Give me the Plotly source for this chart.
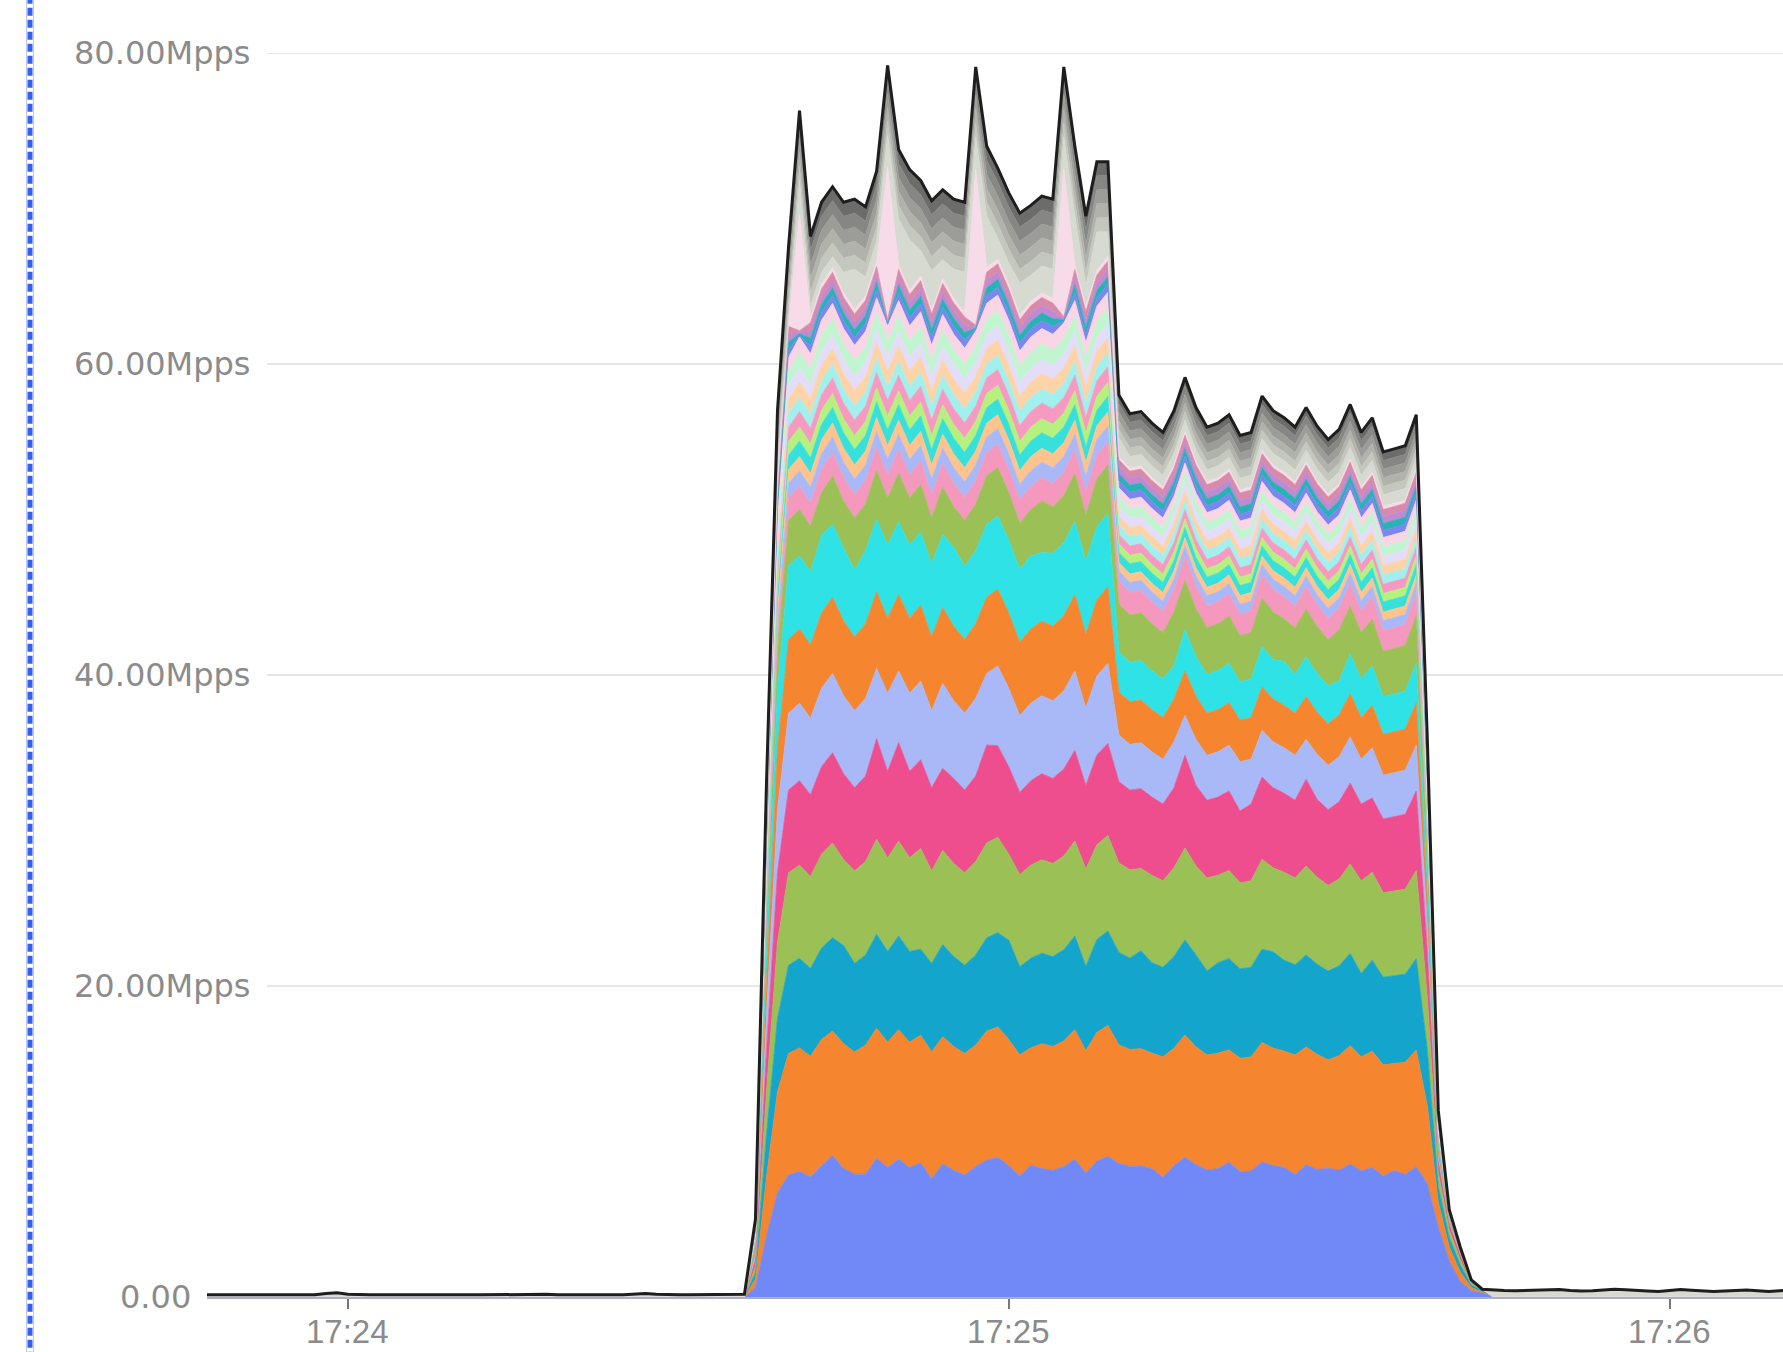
import numpy as np
import pandas as pd
import plotly.graph_objects as go

# ---------------- time axis (1 s samples, 17:23:47 .. 17:26:11) ----------------
TIMES = pd.date_range("2024-01-01 17:23:47", periods=145, freq="s")
N_BEFORE = 50   # 17:23:47 .. 17:24:36 (idle)
N_AFTER = 28    # 17:25:44 .. 17:26:11 (idle)
# active window = 67 samples, 17:24:37 .. 17:25:43

Y_TICKS = [0, 20, 40, 60, 80]
Y_TICK_TEXT = ["0.00", "20.00Mpps", "40.00Mpps", "60.00Mpps", "80.00Mpps"]
X_TICKS = ["2024-01-01 17:24:00", "2024-01-01 17:25:00", "2024-01-01 17:26:00"]
X_TICK_TEXT = ["17:24", "17:25", "17:26"]

# idle traffic (Mpps) before / after the burst
IDLE_BEFORE = [0.15, 0.15, 0.16, 0.15, 0.14, 0.15, 0.16, 0.17, 0.15, 0.14,
               0.15, 0.22, 0.28, 0.18, 0.15, 0.14, 0.15, 0.16, 0.15, 0.15,
               0.14, 0.15, 0.17, 0.16, 0.15, 0.14, 0.15, 0.15, 0.16, 0.18,
               0.20, 0.17, 0.15, 0.14, 0.15, 0.16, 0.15, 0.14, 0.15, 0.17,
               0.22, 0.18, 0.15, 0.14, 0.15, 0.16, 0.17, 0.15, 0.16, 0.18]
IDLE_AFTER = [0.45, 0.42, 0.40, 0.42, 0.45, 0.50, 0.48, 0.42, 0.38, 0.40,
              0.45, 0.50, 0.46, 0.40, 0.38, 0.35, 0.40, 0.48, 0.44, 0.38,
              0.35, 0.38, 0.42, 0.45, 0.40, 0.36, 0.40, 0.45]

# ---------------- per-flow rates during the burst (Mpps) ----------------
BLUE_V = [0.6, 3.9, 6.7,
          7.84, 8.08, 7.72, 8.44, 9.1, 8.26, 7.9, 7.9, 8.92, 8.32,
          8.86, 8.32, 8.62, 7.6, 8.56, 8.14, 7.84, 8.4, 8.8, 8.98,
          8.44, 7.78, 8.48, 8.26, 8.14, 8.38, 8.86, 7.96, 8.74, 9.04,
          8.58,
          8.4, 8.43, 8.25, 7.7, 8.45, 8.98, 8.5, 8.18, 8.25, 8.68,
          8.05, 8.1, 8.68, 8.45, 8.33, 7.88, 8.5, 8.2, 8.28, 8.15,
          8.55, 8.1, 8.33, 7.78, 8.13, 7.88, 8.38,
          7.3, 4.5, 2.3, 1.0, 0.4, 0.25]
ORANGE_V = [0.55, 3.8, 6.5,
            7.82, 7.94, 7.76, 8.12, 8.0, 8.03, 7.85, 8.3, 8.36, 8.06,
            8.33, 8.06, 8.21, 8.15, 8.18, 7.97, 7.82, 7.8, 8.3, 8.39,
            8.12, 7.79, 7.54, 8.03, 7.97, 8.09, 8.33, 7.88, 8.27, 8.42,
            7.63,
            7.52, 7.54, 7.43, 7.74, 7.55, 7.87, 7.58, 7.39, 7.43, 7.21,
            7.31, 7.34, 7.69, 7.55, 7.48, 7.69, 7.58, 7.4, 6.97, 7.37,
            7.61, 7.34, 7.48, 7.15, 6.88, 7.21, 7.51,
            5.0, 1.6, 0.9, 0.6, 0.2, 0.08]
TEAL_V = [0.4, 2.7, 4.7,
          5.68, 5.76, 5.64, 5.88, 6.0, 6.32, 5.7, 5.8, 6.04, 5.84,
          6.02, 5.84, 5.54, 5.7, 5.92, 5.78, 5.68, 5.8, 6.0, 6.06,
          6.38, 5.66, 5.76, 5.82, 5.78, 5.86, 6.02, 5.42, 5.98, 6.08,
          5.95,
          5.88, 6.29, 5.82, 5.76, 5.9, 6.11, 5.92, 5.39, 5.82, 5.87,
          5.74, 5.76, 5.99, 6.2, 5.85, 5.79, 5.92, 5.8, 5.71, 5.78,
          5.94, 5.36, 5.85, 5.63, 5.65, 5.67, 5.87,
          3.6, 1.0, 0.6, 0.45, 0.15, 0.07]
GREEN_V = [0.4, 2.8, 4.9,
           5.94, 5.98, 5.92, 6.04, 6.1, 5.51, 5.95, 6.0, 6.12, 6.02,
           6.11, 6.02, 6.47, 5.95, 6.06, 5.99, 5.94, 6.0, 6.1, 6.13,
           5.54, 5.93, 5.98, 6.01, 5.99, 6.03, 6.11, 6.26, 6.09, 6.14,
           5.75,
           5.68, 5.29, 5.62, 5.56, 5.7, 5.91, 5.72, 5.99, 5.62, 5.67,
           5.54, 5.56, 5.79, 5.4, 5.65, 5.59, 5.72, 5.6, 5.51, 5.58,
           5.74, 5.96, 5.65, 5.43, 5.45, 5.47, 5.67,
           3.4, 0.9, 0.5, 0.35, 0.12, 0.05]
PINK_V = [0.4, 2.6, 4.5,
          5.32, 5.44, 5.26, 5.62, 5.8, 5.53, 5.35, 5.5, 6.46, 5.56,
          6.33, 5.56, 5.71, 5.35, 5.28, 5.47, 5.32, 5.5, 6.3, 5.89,
          5.62, 5.29, 5.44, 5.53, 5.47, 5.59, 5.83, 5.38, 5.77, 5.92,
          5.23,
          5.12, 5.14, 5.03, 4.94, 5.15, 5.97, 5.18, 4.99, 5.03, 5.11,
          4.61, 4.94, 5.29, 5.15, 5.08, 4.99, 5.58, 5.0, 4.87, 4.97,
          5.21, 4.94, 4.78, 4.75, 4.78, 4.81, 5.11,
          3.0, 0.7, 0.4, 0.3, 0.1, 0.05]
LAVENDER_V = [0.35, 2.3, 4.0,
              4.94, 4.98, 4.92, 5.04, 5.1, 5.01, 4.95, 5.0, 4.52, 5.02,
              4.61, 5.02, 5.07, 4.95, 5.46, 4.99, 4.94, 5.0, 4.6, 5.13,
              5.04, 4.93, 4.98, 5.01, 4.99, 5.03, 5.11, 4.96, 5.09, 5.14,
              2.98,
              2.94, 2.95, 2.91, 2.88, 2.95, 2.56, 2.96, 2.9, 2.91, 2.94,
              3.17, 2.88, 3.0, 2.95, 2.93, 2.9, 2.56, 2.9, 2.86, 2.89,
              2.97, 2.88, 3.23, 2.82, 2.83, 2.84, 2.94,
              1.7, 0.35, 0.15, 0.1, 0.03, 0.0]
ORANGE_B_V = [0.35, 2.2, 3.9,
              4.74, 4.78, 4.72, 4.84, 4.9, 4.81, 4.75, 4.8, 4.92, 4.82,
              4.91, 4.82, 4.87, 4.75, 4.86, 4.79, 4.74, 4.8, 4.9, 4.93,
              4.84, 4.73, 4.78, 4.81, 4.79, 4.83, 4.91, 4.76, 4.89, 4.94,
              2.78,
              2.74, 2.75, 2.71, 2.68, 2.75, 2.86, 2.76, 2.7, 2.71, 2.74,
              2.67, 2.68, 2.8, 2.75, 2.73, 2.7, 2.76, 2.7, 2.66, 2.69,
              2.77, 2.68, 2.73, 2.62, 2.63, 2.64, 2.74,
              1.6, 0.35, 0.15, 0.1, 0.03, 0.0]
CYAN_V = [0.3, 2.2, 3.8,
          4.7, 4.7, 4.7, 5.0, 4.7, 4.7, 4.3, 4.7, 4.7, 4.7,
          4.7, 4.7, 4.7, 4.7, 4.7, 5.1, 4.7, 4.7, 4.7, 4.7,
          4.7, 4.7, 4.7, 4.4, 4.7, 4.7, 4.7, 4.7, 4.7, 4.7,
          2.58,
          2.54, 2.55, 2.51, 2.48, 2.15, 2.66, 2.56, 2.5, 2.51, 2.54,
          2.47, 2.48, 2.6, 2.55, 2.83, 2.5, 2.56, 2.5, 2.46, 2.19,
          2.57, 2.48, 2.53, 2.42, 2.43, 2.44, 2.54,
          1.5, 0.3, 0.15, 0.1, 0.03, 0.0]
GREEN_B_V = [0.2, 1.4, 2.4,
             2.94, 2.98, 2.92, 2.74, 3.1, 3.01, 3.35, 3.0, 3.12, 3.02,
             3.11, 3.02, 3.07, 2.95, 3.06, 2.59, 2.94, 3.0, 3.1, 3.13,
             3.04, 2.93, 2.98, 3.31, 2.99, 3.03, 3.11, 2.96, 3.09, 3.14,
             3.08,
             3.04, 3.05, 3.01, 2.98, 3.45, 3.16, 3.06, 3.0, 3.01, 3.04,
             2.97, 2.98, 3.1, 3.05, 2.73, 3.0, 3.06, 3.0, 2.96, 3.29,
             3.07, 2.98, 3.03, 2.92, 2.93, 2.94, 3.04,
             1.8, 0.35, 0.15, 0.1, 0.04, 0.0]
PINK_B_V = [0.1, 0.7, 1.2,
            1.5, 1.5, 1.5, 1.5, 1.5, 1.5, 1.5, 1.5, 1.5, 1.5,
            1.5, 1.5, 1.5, 1.5, 1.5, 1.5, 1.5, 1.5, 1.5, 1.5,
            1.5, 1.5, 1.5, 1.5, 1.5, 1.5, 1.5, 1.5, 1.5, 1.5,
            1.48,
            1.44, 1.45, 1.41, 1.38, 1.45, 1.56, 1.46, 1.4, 1.41, 1.44,
            1.37, 1.38, 1.5, 1.45, 1.43, 1.4, 1.46, 1.4, 1.36, 1.39,
            1.47, 1.38, 1.43, 1.32, 1.33, 1.34, 1.44,
            0.8, 0.15, 0.05, 0.0, 0.0, 0.0]

# small flows (thin bands)
C1_V = [0.07, 0.46, 0.78, 0.9,
        1.0, 1.0, 1.0, 1.0, 1.0, 1.0, 1.0, 1.0, 1.0, 1.0, 1.0, 1.0, 1.0, 1.0, 1.0,
        1.0, 1.0, 1.0, 1.0, 1.0, 1.0, 1.0, 1.0, 1.0, 1.0, 1.0, 1.0, 1.0, 1.0,
        0.65, 0.65, 0.65, 0.65, 0.65, 0.65, 0.65, 0.65, 0.65, 0.65, 0.65, 0.65, 0.65, 0.65,
        0.65, 0.65, 0.65, 0.65, 0.65, 0.65, 0.65, 0.65, 0.65, 0.65, 0.65, 0.65, 0.65, 0.65,
        0.36, 0.1, 0.01, 0.0, 0.0, 0.0]
C2_V = [0.07, 0.46, 0.78, 0.9,
        0.9, 0.9, 0.9, 0.9, 0.9, 0.9, 0.9, 0.9, 0.9, 0.9, 0.9, 0.9, 0.9, 0.9, 0.9,
        0.9, 0.9, 0.9, 0.9, 0.9, 0.9, 0.9, 0.9, 0.9, 0.9, 0.9, 0.9, 0.9, 0.9,
        0.55, 0.55, 0.55, 0.55, 0.55, 0.55, 0.55, 0.55, 0.55, 0.55, 0.55, 0.55, 0.55, 0.55,
        0.55, 0.55, 0.55, 0.55, 0.55, 0.55, 0.55, 0.55, 0.55, 0.55, 0.55, 0.55, 0.55, 0.55,
        0.36, 0.1, 0.01, 0.0, 0.0, 0.0]
C3_V = [0.07, 0.46, 0.78, 0.9,
        1.0, 1.0, 1.0, 1.0, 1.0, 1.0, 1.0, 1.0, 1.0, 1.0, 1.0, 1.0, 1.0, 1.0, 1.0,
        1.0, 1.0, 1.0, 1.0, 1.0, 1.0, 1.0, 1.0, 1.0, 1.0, 1.0, 1.0, 1.0, 1.0,
        0.65, 0.65, 0.65, 0.65, 0.65, 0.65, 0.65, 0.65, 0.65, 0.65, 0.65, 0.65, 0.65, 0.65,
        0.65, 0.65, 0.65, 0.65, 0.65, 0.65, 0.65, 0.65, 0.65, 0.65, 0.65, 0.65, 0.65, 0.65,
        0.36, 0.1, 0.01, 0.0, 0.0, 0.0]
C4_V = [0.07, 0.46, 0.78, 0.9,
        0.9, 0.9, 0.9, 0.9, 0.9, 0.9, 0.9, 0.9, 0.9, 0.9, 0.9, 0.9, 0.9, 0.9, 0.9,
        0.9, 0.9, 0.9, 0.9, 0.9, 0.9, 0.9, 0.9, 0.9, 0.9, 0.9, 0.9, 0.9, 0.9,
        0.55, 0.55, 0.55, 0.55, 0.55, 0.55, 0.55, 0.55, 0.55, 0.55, 0.55, 0.55, 0.55, 0.55,
        0.55, 0.55, 0.55, 0.55, 0.55, 0.55, 0.55, 0.55, 0.55, 0.55, 0.55, 0.55, 0.55, 0.55,
        0.36, 0.1, 0.01, 0.0, 0.0, 0.0]
C5_V = [0.07, 0.46, 0.78, 0.9,
        1.0, 1.0, 1.0, 1.0, 1.0, 1.0, 1.0, 1.0, 1.0, 1.0, 1.0, 1.0, 1.0, 1.0, 1.0,
        1.0, 1.0, 1.0, 1.0, 1.0, 1.0, 1.0, 1.0, 1.0, 1.0, 1.0, 1.0, 1.0, 1.0,
        0.6, 0.6, 0.6, 0.6, 0.6, 0.6, 0.6, 0.6, 0.6, 0.6, 0.6, 0.6, 0.6, 0.6,
        0.6, 0.6, 0.6, 0.6, 0.6, 0.6, 0.6, 0.6, 0.6, 0.6, 0.6, 0.6, 0.6, 0.6,
        0.36, 0.1, 0.01, 0.0, 0.0, 0.0]
C6_V = [0.07, 0.46, 0.78, 0.9,
        0.9, 0.9, 0.9, 0.9, 0.9, 0.9, 0.9, 0.9, 0.9, 0.9, 0.9, 0.9, 0.9, 0.9, 0.9,
        0.9, 0.9, 0.9, 0.9, 0.9, 0.9, 0.9, 0.9, 0.9, 0.9, 0.9, 0.9, 0.9, 0.9,
        0.6, 0.6, 0.6, 0.6, 0.6, 0.6, 0.6, 0.6, 0.6, 0.6, 0.6, 0.6, 0.6, 0.6,
        0.6, 0.6, 0.6, 0.6, 0.6, 0.6, 0.6, 0.6, 0.6, 0.6, 0.6, 0.6, 0.6, 0.6,
        0.36, 0.1, 0.01, 0.0, 0.0, 0.0]
C7_V = [0.07, 0.46, 0.78, 0.9,
        1.0, 1.0, 1.0, 1.0, 1.0, 1.0, 1.0, 1.0, 1.0, 1.0, 1.0, 1.0, 1.0, 1.0, 1.0,
        1.0, 1.0, 1.0, 1.0, 1.0, 1.0, 1.0, 1.0, 1.0, 1.0, 1.0, 1.0, 1.0, 1.0,
        0.6, 0.6, 0.6, 0.6, 0.6, 0.6, 0.6, 0.6, 0.6, 0.6, 0.6, 0.6, 0.6, 0.6,
        0.6, 0.6, 0.6, 0.6, 0.6, 0.6, 0.6, 0.6, 0.6, 0.6, 0.6, 0.6, 0.6, 0.6,
        0.36, 0.1, 0.01, 0.0, 0.0, 0.0]
C8_V = [0.07, 0.46, 0.78, 0.9,
        0.9, 0.9, 0.9, 0.9, 0.9, 0.9, 0.9, 0.9, 0.9, 0.9, 0.9, 0.9, 0.9, 0.9, 0.9,
        0.9, 0.9, 0.9, 0.9, 0.9, 0.9, 0.9, 0.9, 0.9, 0.9, 0.9, 0.9, 0.9, 0.9,
        0.6, 0.6, 0.6, 0.6, 0.6, 0.6, 0.6, 0.6, 0.6, 0.6, 0.6, 0.6, 0.6, 0.6,
        0.6, 0.6, 0.6, 0.6, 0.6, 0.6, 0.6, 0.6, 0.6, 0.6, 0.6, 0.6, 0.6, 0.6,
        0.36, 0.1, 0.01, 0.0, 0.0, 0.0]
C9_V = [0.07, 0.46, 0.78, 0.9,
        1.0, 1.0, 1.0, 1.0, 1.0, 1.0, 1.0, 1.0, 1.0, 1.0, 1.0, 1.0, 1.0, 1.0, 1.0,
        1.0, 1.0, 1.0, 1.0, 1.0, 1.0, 1.0, 1.0, 1.0, 1.0, 1.0, 1.0, 1.0, 1.0,
        0.6, 0.6, 0.6, 0.6, 0.6, 0.6, 0.6, 0.6, 0.6, 0.6, 0.6, 0.6, 0.6, 0.6,
        0.6, 0.6, 0.6, 0.6, 0.6, 0.6, 0.6, 0.6, 0.6, 0.6, 0.6, 0.6, 0.6, 0.6,
        0.36, 0.1, 0.01, 0.0, 0.0, 0.0]
C10_V = [0.07, 0.46, 0.78, 0.9,
         1.0, 1.0, 1.0, 1.0, 1.0, 1.0, 1.0, 1.0, 1.0, 1.0, 1.0, 1.0, 1.0, 1.0, 1.0,
         1.0, 1.0, 1.0, 1.0, 1.0, 1.0, 1.0, 1.0, 1.0, 1.0, 1.0, 1.0, 1.0, 1.0,
         0.6, 0.6, 0.6, 0.6, 0.6, 0.6, 0.6, 0.6, 0.6, 0.6, 0.6, 0.6, 0.6, 0.6,
         0.6, 0.6, 0.6, 0.6, 0.6, 0.6, 0.6, 0.6, 0.6, 0.6, 0.6, 0.6, 0.6, 0.6,
         0.36, 0.1, 0.01, 0.0, 0.0, 0.0]
D_V = [0.03, 0.2, 0.4, 0.5,
       0.1, 0.5, 0.5, 0.5, 0.5, 0.5, 0.5, 0.5,
       0.1, 0.5, 0.5, 0.5, 0.5, 0.5, 0.5, 0.5,
       0.1, 0.5, 0.5, 0.5, 0.5, 0.5, 0.5, 0.5,
       0.1, 0.5, 0.5, 0.5, 0.5,
       0.45, 0.45, 0.45, 0.45, 0.45, 0.45, 0.45, 0.45, 0.45, 0.45, 0.45, 0.45, 0.45, 0.45,
       0.45, 0.45, 0.45, 0.45, 0.45, 0.45, 0.45, 0.45, 0.45, 0.45, 0.45, 0.45, 0.45, 0.45,
       0.25, 0.05, 0.0, 0.0, 0.0, 0.0]
SPIKE_V = [0.02, 0.1, 0.25, 0.3,
           7.5, 0.3, 0.3, 0.3, 0.3, 0.3, 0.3, 0.3,
           9.8, 0.3, 0.3, 0.3, 0.3, 0.3, 0.3, 0.3,
           10.0, 0.3, 0.3, 0.3, 0.3, 0.3, 0.3, 0.3,
           9.5, 0.3, 0.3, 0.3, 0.3,
           0.2, 0.2, 0.2, 0.2, 0.2, 0.2, 0.2, 0.2, 0.2, 0.2, 0.2, 0.2, 0.2, 0.2,
           0.2, 0.2, 0.2, 0.2, 0.2, 0.2, 0.2, 0.2, 0.2, 0.2, 0.2, 0.2, 0.2, 0.2,
           0.1, 0.02, 0.0, 0.0, 0.0, 0.0]
REST_V = [0.21, 0.9, 1.0,
          0.28, 2.16, 0.74, 0.78, 0.7, 1.32, 2.6, 1.2, 1.34, 2.04,
          2.92, 3.24, 1.64, 2.5, 1.22, 1.88, 2.58, 2.1, 3.3, 1.36,
          1.38, 2.06, 1.66, 1.72, 1.88, 2.06, 3.12, 1.32, 2.48, 1.58,
          1.21,
          0.75, 0.75, 0.75, 0.75, 0.75, 0.75, 0.75, 0.75, 0.75, 0.75,
          0.75, 0.75, 0.75, 0.75, 0.75, 0.75, 0.75, 0.75, 0.75, 0.75,
          0.75, 0.75, 0.75, 0.75, 0.75, 0.75, 0.75,
          0.1, 0.08, 0.05, 0.1, 0.0, 0.0]
GRAY_V = [0.06, 0.4, 0.75,
          0.9, 0.9, 0.9, 0.9, 0.9, 0.9, 0.9, 0.9, 0.9, 0.9,
          0.9, 0.9, 0.9, 0.9, 0.9, 0.9, 0.9, 0.9, 0.9, 0.9,
          0.9, 0.9, 0.9, 0.9, 0.9, 0.9, 0.9, 0.9, 0.9, 0.9,
          0.55,
          0.55, 0.55, 0.55, 0.55, 0.55, 0.55, 0.55, 0.55, 0.55, 0.55,
          0.55, 0.55, 0.55, 0.55, 0.55, 0.55, 0.55, 0.55, 0.55, 0.55,
          0.55, 0.55, 0.55, 0.55, 0.55, 0.55, 0.55,
          0.3, 0.1, 0.02, 0.0, 0.0, 0.0]


def full(active, before=None, after=None):
    if len(active) != 67:
        raise ValueError("bad length %d" % len(active))
    b = list(before) if before is not None else [0.0] * N_BEFORE
    a = list(after) if after is not None else [0.0] * N_AFTER
    return b + list(active) + a


LAYERS = [
    ("flow 1", full(BLUE_V), "#7089f6"),
    ("flow 2", full(ORANGE_V), "#f5852f"),
    ("flow 3", full(TEAL_V), "#14a5cd"),
    ("flow 4", full(GREEN_V), "#9bc055"),
    ("flow 5", full(PINK_V), "#ee4e8e"),
    ("flow 6", full(LAVENDER_V), "#a9b8f7"),
    ("flow 7", full(ORANGE_B_V), "#f5852f"),
    ("flow 8", full(CYAN_V), "#2ee2e6"),
    ("flow 9", full(GREEN_B_V), "#9bc055"),
    ("flow 10", full(PINK_B_V), "#f598bd"),
    ("flow 11", full(C1_V), "#a9b8f7"),
    ("flow 12", full(C2_V), "#ffc48e"),
    ("flow 13", full(C3_V), "#38e0dc"),
    ("flow 14", full(C4_V), "#b6f07e"),
    ("flow 15", full(C5_V), "#f79ac2"),
    ("flow 16", full(C6_V), "#a2f0ee"),
    ("flow 17", full(C7_V), "#ffd3a8"),
    ("flow 18", full(C8_V), "#e3ddfa"),
    ("flow 19", full(C9_V), "#c0f5d0"),
    ("flow 20", full(C10_V), "#f9d5e5"),
    ("flow 21", full(D_V), "#7b87ee"),
    ("flow 22", full(D_V), "#27b3b6"),
    ("flow 23", full(D_V), "#c08ad2"),
    ("flow 24", full(D_V), "#d88aa8"),
    ("flow 25", full(SPIKE_V), "#f7dbe8"),
    ("flow 26", full(REST_V, IDLE_BEFORE, IDLE_AFTER), "#d6dad0"),
    ("flow 27", full(GRAY_V), "#c4c7bd"),
    ("flow 28", full(GRAY_V), "#b0b2ab"),
    ("flow 29", full(GRAY_V), "#9c9d98"),
    ("flow 30", full(GRAY_V), "#868784"),
    ("flow 31", full(GRAY_V), "#6c6c6b"),
]

fig = go.Figure()
for name, vals, color in LAYERS:
    fig.add_trace(go.Scatter(
        x=TIMES, y=vals, name=name, stackgroup="one", mode="lines",
        line=dict(width=0.8, color=color), fillcolor=color, hoverinfo="skip"))

TOTAL = np.sum([v for _, v, _ in LAYERS], axis=0)
fig.add_trace(go.Scatter(x=TIMES, y=TOTAL, mode="lines", name="total",
                         line=dict(color="#1e1e1e", width=3), hoverinfo="skip"))

PLOT_L, PLOT_W, PLOT_T, PLOT_H = 207, 1576, 53, 1244

shapes = []
for v in Y_TICKS[1:]:
    shapes.append(dict(type="line", xref="paper", yref="y",
                       x0=(267 - PLOT_L) / PLOT_W, x1=1, y0=v, y1=v,
                       line=dict(color="#e3e5ef", width=2), layer="below"))
# dashed selection border on the far left
shapes.append(dict(type="rect", xref="paper", yref="paper",
                   x0=(26.5 - PLOT_L) / PLOT_W, x1=(33.5 - PLOT_L) / PLOT_W,
                   y0=-0.06, y1=1.06, fillcolor="white",
                   line=dict(color="#b7c5f8", width=1), layer="above"))
shapes.append(dict(type="line", xref="paper", yref="paper",
                   x0=(30 - PLOT_L) / PLOT_W, x1=(30 - PLOT_L) / PLOT_W,
                   y0=-0.06, y1=1.06,
                   line=dict(color="#3760e8", width=5, dash="8px,4px"), layer="above"))

annotations = []
for v, txt in zip(Y_TICKS, Y_TICK_TEXT):
    xl = 118 if v == 0 else 72
    annotations.append(dict(x=(xl - PLOT_L) / PLOT_W, xref="paper", y=v, yref="y",
                            text=txt, showarrow=False, xanchor="left", yanchor="middle",
                            font=dict(family="DejaVu Sans", size=32, color="#8b8b8b")))
# time labels under the tick marks
LABEL_Y = (PLOT_T + PLOT_H - 1331) / PLOT_H
for xt, txt in zip(X_TICKS, X_TICK_TEXT):
    annotations.append(dict(x=xt, xref="x", y=LABEL_Y, yref="paper", text=txt,
                            showarrow=False, xanchor="center", yanchor="middle",
                            font=dict(family="Liberation Sans, Arial", size=33, color="#8b8b8b")))

fig.update_layout(
    width=1783, height=1352,
    margin=dict(l=PLOT_L, r=0, t=PLOT_T, b=1352 - PLOT_T - PLOT_H, autoexpand=False),
    paper_bgcolor="white", plot_bgcolor="white",
    showlegend=False,
    shapes=shapes, annotations=annotations,
    xaxis=dict(type="date",
               range=["2024-01-01 17:23:47.2", "2024-01-01 17:26:10.3"],
               tickmode="array", tickvals=X_TICKS, showticklabels=False,
               ticks="outside", ticklen=10, tickwidth=2, tickcolor="#777777",
               showgrid=False, zeroline=False, showline=True,
               linecolor="#a9afc4", linewidth=2, automargin=False,
               layer="below traces"),
    yaxis=dict(range=[0, 80], showticklabels=False, showgrid=False,
               zeroline=False, showline=False, automargin=False),
)

fig.write_html("out.html", config={"displayModeBar": False},
               post_script="document.body.style.margin='0';document.body.style.overflow='hidden';")
